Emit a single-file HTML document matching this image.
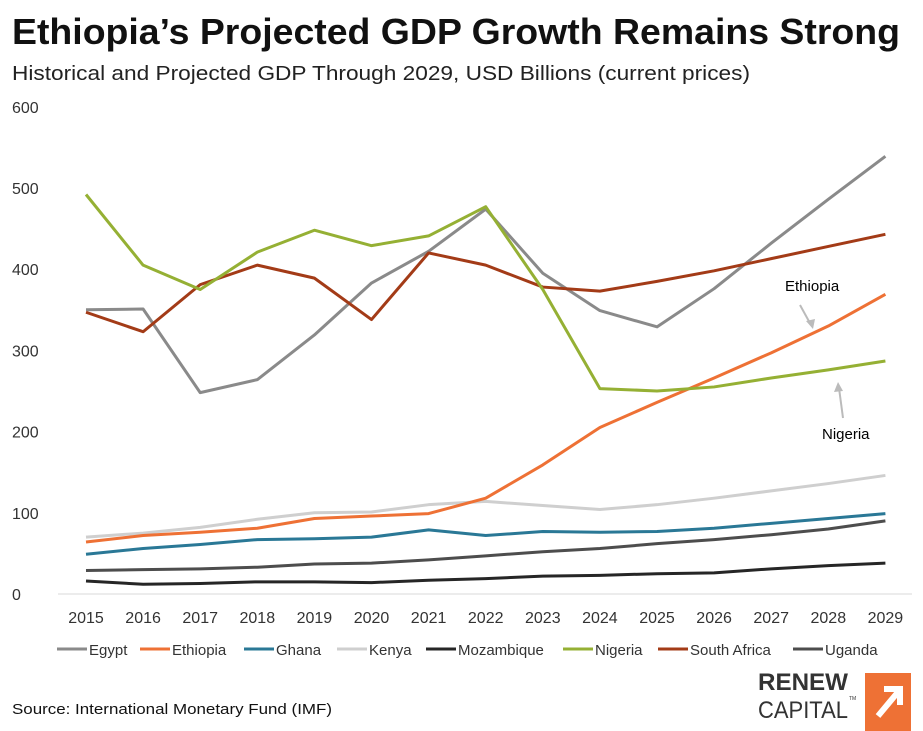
<!DOCTYPE html>
<html><head><meta charset="utf-8"><style>
html,body{margin:0;padding:0;background:#fff;}
svg{display:block;font-family:"Liberation Sans",sans-serif;}
</style></head><body>
<svg id="chart" width="923" height="731" viewBox="0 0 923 731">
<text x="12" y="44" font-size="36" font-weight="bold" fill="#111" textLength="888" lengthAdjust="spacingAndGlyphs">Ethiopia’s Projected GDP Growth Remains Strong</text>
<text x="12" y="80" font-size="20" fill="#222" textLength="738" lengthAdjust="spacingAndGlyphs">Historical and Projected GDP Through 2029, USD Billions (current prices)</text>
<g id="grid"></g><g id="series"></g><g id="legend"></g>
<text x="785" y="291" font-size="15" fill="#000">Ethiopia</text>
<line x1="800" y1="305" x2="811" y2="325" stroke="#bbb" stroke-width="2"/>
<polygon points="813,329 806,321 815,319" fill="#bbb"/>
<text x="822" y="439" font-size="15" fill="#000">Nigeria</text>
<line x1="843" y1="418" x2="839" y2="388" stroke="#bbb" stroke-width="2"/>
<polygon points="838,382 834,392 843,391" fill="#bbb"/>
<text x="12" y="714" font-size="15" fill="#111" textLength="320" lengthAdjust="spacingAndGlyphs">Source: International Monetary Fund (IMF)</text>
<text x="758" y="690" font-size="24" font-weight="bold" fill="#333" textLength="90" lengthAdjust="spacingAndGlyphs">RENEW</text>
<text x="758" y="718" font-size="24" fill="#333" textLength="90" lengthAdjust="spacingAndGlyphs">CAPITAL</text>
<text x="849" y="700" font-size="5" fill="#333">TM</text>
<rect x="865" y="673" width="46" height="58" fill="#ee7135"/>
<path d="M878 716 L898 692 M884 689 L900 689 L900 705" stroke="#fff" stroke-width="6" fill="none"/>
</svg>
<script>
const years=[2015,2016,2017,2018,2019,2020,2021,2022,2023,2024,2025,2026,2027,2028,2029];
const yTicks=[0,100,200,300,400,500,600];
const seriesNames=["Egypt","Ethiopia","Ghana","Kenya","Mozambique","Nigeria","South Africa","Uganda"];
const seriesColors=["#8a8a8a","#ee7135","#2a7896","#cfcfcf","#262626","#95b034","#a33b17","#4d4d4d"];
const egypt=[350,351,248,264,319,383,422,474,395,349,329,376,432,486,539];
const ethiopia=[64,72,76,81,93,96,99,118,159,205,236,266,297,330,369];
const ghana=[49,56,61,67,68,70,79,72,77,76,77,81,87,93,99];
const kenya=[70,75,82,92,100,101,110,114,109,104,110,118,127,136,146];
const mozambique=[16,12,13,15,15,14,17,19,22,23,25,26,31,35,38];
const nigeria=[492,405,375,421,448,429,441,477,375,253,250,255,266,276,287];
const southAfrica=[347,323,381,405,389,338,420,405,378,373,385,398,413,428,443];
const uganda=[29,30,31,33,37,38,42,47,52,56,62,67,73,80,90];
const seriesData=[egypt,ethiopia,ghana,kenya,mozambique,nigeria,southAfrica,uganda];
const NS="http://www.w3.org/2000/svg";
const xS=i=>86+i*57.1;
const yS=v=>594-v*0.812;
function mk(tag,attrs,parent){const e=document.createElementNS(NS,tag);for(const k in attrs)e.setAttribute(k,attrs[k]);parent.appendChild(e);return e;}
const grid=document.getElementById('grid');
const bl=mk('line',{x1:58,x2:912,y1:yS(0),y2:yS(0),stroke:'#d9d9d9','stroke-width':1},grid);


yTicks.forEach(t=>{const e=mk('text',{x:12,y:yS(t)+6,'font-size':16,fill:'#333'},grid);e.textContent=t;

});
years.forEach((y,i)=>{const e=mk('text',{x:xS(i),y:623,'font-size':16,fill:'#333','text-anchor':'middle'},grid);e.textContent=y;

});
const sg=document.getElementById('series');
const order=[4,7,2,3,1,0,6,5];
order.forEach(s=>{const pts=seriesData[s].map((v,i)=>xS(i)+','+yS(v)).join(' ');
const p=mk('polyline',{points:pts,fill:'none',stroke:seriesColors[s],'stroke-width':3,'stroke-linejoin':'round'},sg);

});
const lg=document.getElementById('legend');
const lx=[57,140,244,337,426,563,658,793];
seriesNames.forEach((n,i)=>{const g=mk('g',{},lg);


mk('line',{x1:lx[i],x2:lx[i]+30,y1:649,y2:649,stroke:seriesColors[i],'stroke-width':3},g);
const t=mk('text',{x:lx[i]+32,y:655,'font-size':15,fill:'#333'},g);t.textContent=n;});
</script>
</body></html>
